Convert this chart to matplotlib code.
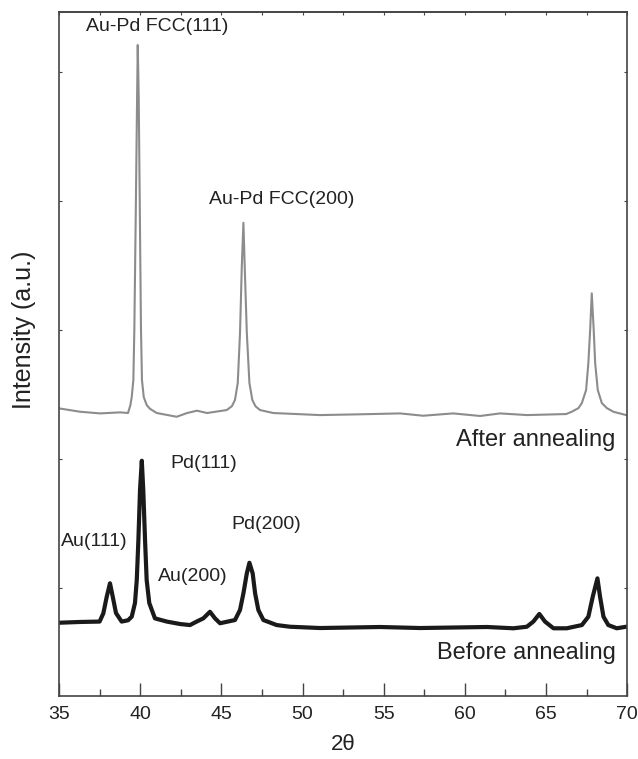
import matplotlib
matplotlib.use("Agg")
import matplotlib.pyplot as plt
from matplotlib.ticker import MultipleLocator

plt.rcParams['font.family'] = ['Liberation Sans', 'DejaVu Sans']

# After annealing (gray) : 2theta, intensity (a.u.)
after_2theta = [35.00, 36.29, 37.53, 38.76, 39.25, 39.40, 39.48, 39.58, 39.64, 39.74, 39.81,
                39.85, 39.91, 39.97, 40.05, 40.11, 40.22, 40.40, 40.60, 41.02, 42.25, 42.89,
                43.50, 44.12, 45.33, 45.65, 45.84, 46.01, 46.15, 46.26, 46.36, 46.44, 46.57,
                46.73, 46.91, 47.10, 47.38, 48.20, 51.08, 53.55, 56.01, 57.43, 59.28, 60.94,
                62.17, 63.84, 66.24, 66.59, 67.00, 67.21, 67.47, 67.61, 67.72, 67.82, 67.94,
                68.03, 68.19, 68.44, 68.75, 69.15, 69.94, 70.00]
after_int = [2393, 2367, 2354, 2362, 2357, 2420, 2481, 2613, 3000, 4031, 4806,
             5210, 4806, 4031, 3000, 2613, 2481, 2419, 2390, 2357, 2328, 2357,
             2375, 2357, 2380, 2410, 2458, 2589, 2977, 3491, 3832, 3491, 2977,
             2589, 2458, 2410, 2380, 2357, 2341, 2347, 2354, 2336, 2354, 2334,
             2354, 2341, 2349, 2367, 2395, 2434, 2535, 2744, 3000, 3285, 3000,
             2744, 2535, 2434, 2395, 2367, 2341, 2341]

# Before annealing (black)
before_2theta = [35.00, 36.29, 37.50, 37.73, 37.94, 38.14, 38.31, 38.51, 38.86, 39.25, 39.48,
                 39.68, 39.79, 39.89, 39.99, 40.10, 40.19, 40.30, 40.40, 40.56, 40.91,
                 41.64, 42.46, 43.07, 43.48, 43.89, 44.30, 44.61, 44.92, 45.84, 46.15,
                 46.36, 46.57, 46.73, 46.93, 47.08, 47.28, 47.59, 48.41, 49.23, 51.08,
                 54.78, 57.24, 61.37, 62.99, 63.82, 64.22, 64.59, 64.94, 65.46, 66.28,
                 67.21, 67.61, 67.88, 68.17, 68.33, 68.54, 68.84, 69.36, 69.94, 70.00]
before_int = [731, 737, 740, 804, 933, 1037, 933, 806, 740, 750, 778,
              884, 1062, 1372, 1760, 1987, 1760, 1372, 1062, 884, 765,
              740, 721, 713, 740, 765, 816, 765, 727, 752, 830,
              959, 1114, 1196, 1114, 959, 830, 752, 713, 700, 690,
              698, 690, 698, 688, 700, 740, 799, 740, 688, 688,
              713, 778, 933, 1075, 933, 778, 713, 688, 700, 700]

x_ticks = [35, 40, 45, 50, 55, 60, 65, 70]
y_ticks = [1000, 2000, 3000, 4000, 5000]

fig = plt.figure(figsize=(6.38, 7.59), dpi=100)
ax = fig.add_axes([0.0925, 0.083, 0.8905, 0.901])

ax.plot(after_2theta, after_int, color='#8c8c8c', lw=1.5, solid_joinstyle='round')
ax.plot(before_2theta, before_int, color='#1a1a1a', lw=3.0, solid_joinstyle='round')

ax.set_xlim(35, 70)
ax.set_ylim(163, 5465)
ax.set_xticks(x_ticks)
ax.xaxis.set_minor_locator(MultipleLocator(2.5))
ax.set_yticks(y_ticks)
ax.set_yticklabels([])
ax.tick_params(axis='x', which='major', direction='in', length=9.5, width=1.0,
               color='#444444', labelsize=14, pad=7, labelcolor='#222222')
ax.tick_params(axis='x', which='minor', direction='in', length=5, width=1.0, color='#444444')
ax.tick_params(axis='y', which='major', direction='in', length=2.5, width=0.8,
               color='#444444', right=True)

sec = ax.secondary_xaxis('top')
sec.set_xticks(x_ticks)
sec.xaxis.set_minor_locator(MultipleLocator(2.5))
sec.set_xticklabels([])
sec.tick_params(which='both', direction='in', length=2.5, width=0.8, color='#444444')
sec.spines['top'].set_color('#444444')
sec.spines['top'].set_linewidth(1.2)

for s in ax.spines.values():
    s.set_color('#444444')
    s.set_linewidth(1.2)

ax.set_xlabel('2θ', fontsize=16, color='#222222', labelpad=8)
ax.set_ylabel('Intensity (a.u.)', fontsize=18, color='#222222')
ax.yaxis.set_label_coords(-0.040, 0.535)

tc = '#222222'
ax.text(41.04, 5357, 'Au-Pd FCC(111)', fontsize=14, ha='center', va='center', color=tc)
ax.text(48.74, 4016, 'Au-Pd FCC(200)', fontsize=14, ha='center', va='center', color=tc)
ax.text(69.26, 2148, 'After annealing', fontsize=17, ha='right', va='center', color=tc)
ax.text(69.32, 496, 'Before annealing', fontsize=17, ha='right', va='center', color=tc)
ax.text(43.93, 1969, 'Pd(111)', fontsize=14, ha='center', va='center', color=tc)
ax.text(47.75, 1489, 'Pd(200)', fontsize=14, ha='center', va='center', color=tc)
ax.text(37.16, 1357, 'Au(111)', fontsize=14, ha='center', va='center', color=tc)
ax.text(43.23, 1093, 'Au(200)', fontsize=14, ha='center', va='center', color=tc)

fig.savefig('out.png', dpi=100)
